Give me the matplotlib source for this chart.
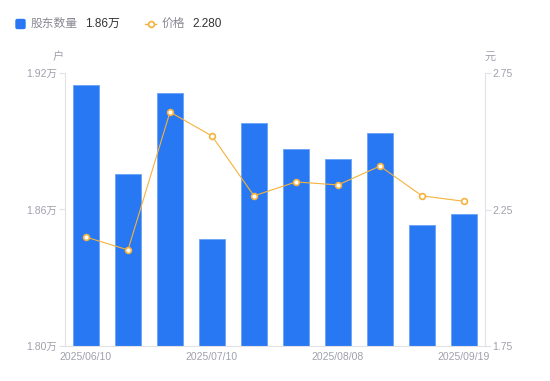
import matplotlib
matplotlib.use("Agg")
import matplotlib.pyplot as plt
import numpy as np
from matplotlib.lines import Line2D
from matplotlib.patches import FancyBboxPatch

plt.rcParams["font.family"] = ["Liberation Sans", "Noto Sans CJK SC", "DejaVu Sans"]

BLUE, BLUE_EDGE, ORANGE = "#2878f4", "#6aa2f7", "#f5b23c"
TICK, AXIS, INK = "#a0a0ac", "#e2e2e6", "#333333"

dates = ["2025/06/10", "", "", "2025/07/10", "", "", "2025/08/08", "", "", "2025/09/19"]
holders = [1.9147, 1.8756, 1.9112, 1.8470, 1.8980, 1.8866, 1.8822, 1.8936, 1.8532, 1.8580]
price = [2.149, 2.102, 2.607, 2.519, 2.300, 2.351, 2.340, 2.409, 2.300, 2.280]

fig = plt.figure(figsize=(5.5, 3.81), dpi=100)
ax = fig.add_axes([65 / 550, 1 - 346 / 381, 420 / 550, 273 / 381])
ax2 = ax.twinx()

x = np.arange(len(holders))
ax.bar(x, holders, width=0.6, color=BLUE, edgecolor=BLUE_EDGE, linewidth=0.6, zorder=2)
ax.set_xlim(-0.5, len(holders) - 0.5)
ax.set_ylim(1.80, 1.92)
ax.set_yticks([1.80, 1.86, 1.92])
ax.set_yticklabels([f"{v:.2f}万" for v in [1.80, 1.86, 1.92]])
ax.set_xticks(x)
ax.set_xticklabels(dates)

ax2.plot(x, price, color=ORANGE, lw=0.8, marker="o", ms=4.2, mfc="white",
         mec=ORANGE, mew=1.2, zorder=3)
ax2.set_ylim(1.75, 2.75)
ax2.set_yticks([1.75, 2.25, 2.75])
ax2.set_yticklabels(["1.75", "2.25", "2.75"])

for a in (ax, ax2):
    for s in a.spines.values():
        s.set_visible(False)
    a.tick_params(axis="y", colors=AXIS, labelcolor=TICK, labelsize=7.5, length=4,
                  width=0.8, pad=1.5)
ax.spines["left"].set_visible(True)
ax.spines["left"].set_color(AXIS)
ax.spines["bottom"].set_visible(True)
ax.spines["bottom"].set_color(AXIS)
ax2.spines["right"].set_visible(True)
ax2.spines["right"].set_color(AXIS)
ax.tick_params(axis="x", length=0, labelcolor=TICK, labelsize=7.5, pad=4)

fig.text(58 / 550, 1 - 57 / 381, "户", fontsize=8, color=TICK, ha="center", va="center")
fig.text(490 / 550, 1 - 57 / 381, "元", fontsize=8, color=TICK, ha="center", va="center")

# legend
fig.patches.append(FancyBboxPatch((16 / 550, 1 - 28.5 / 381), 9 / 550, 9 / 381,
                                  boxstyle="round,pad=0,rounding_size=0.003",
                                  transform=fig.transFigure, color=BLUE, figure=fig))
fig.text(31 / 550, 1 - 24 / 381, "股东数量", fontsize=8.5, color="#888892", va="center")
fig.text(85 / 550, 1 - 24 / 381, "1.86万", fontsize=8.5, color=INK, va="center")
fig.lines.append(Line2D([145 / 550, 156 / 550], [1 - 24 / 381] * 2, transform=fig.transFigure,
                        color=ORANGE, lw=1))
fig.lines.append(Line2D([150.5 / 550], [1 - 24 / 381], transform=fig.transFigure,
                        color=ORANGE, marker="o", ms=4.2, mfc="white", mew=1.2, lw=0))
fig.text(162 / 550, 1 - 24 / 381, "价格", fontsize=8.5, color="#888892", va="center")
fig.text(192 / 550, 1 - 24 / 381, "2.280", fontsize=8.5, color=INK, va="center")

fig.savefig("out.png", dpi=100, facecolor="white")
